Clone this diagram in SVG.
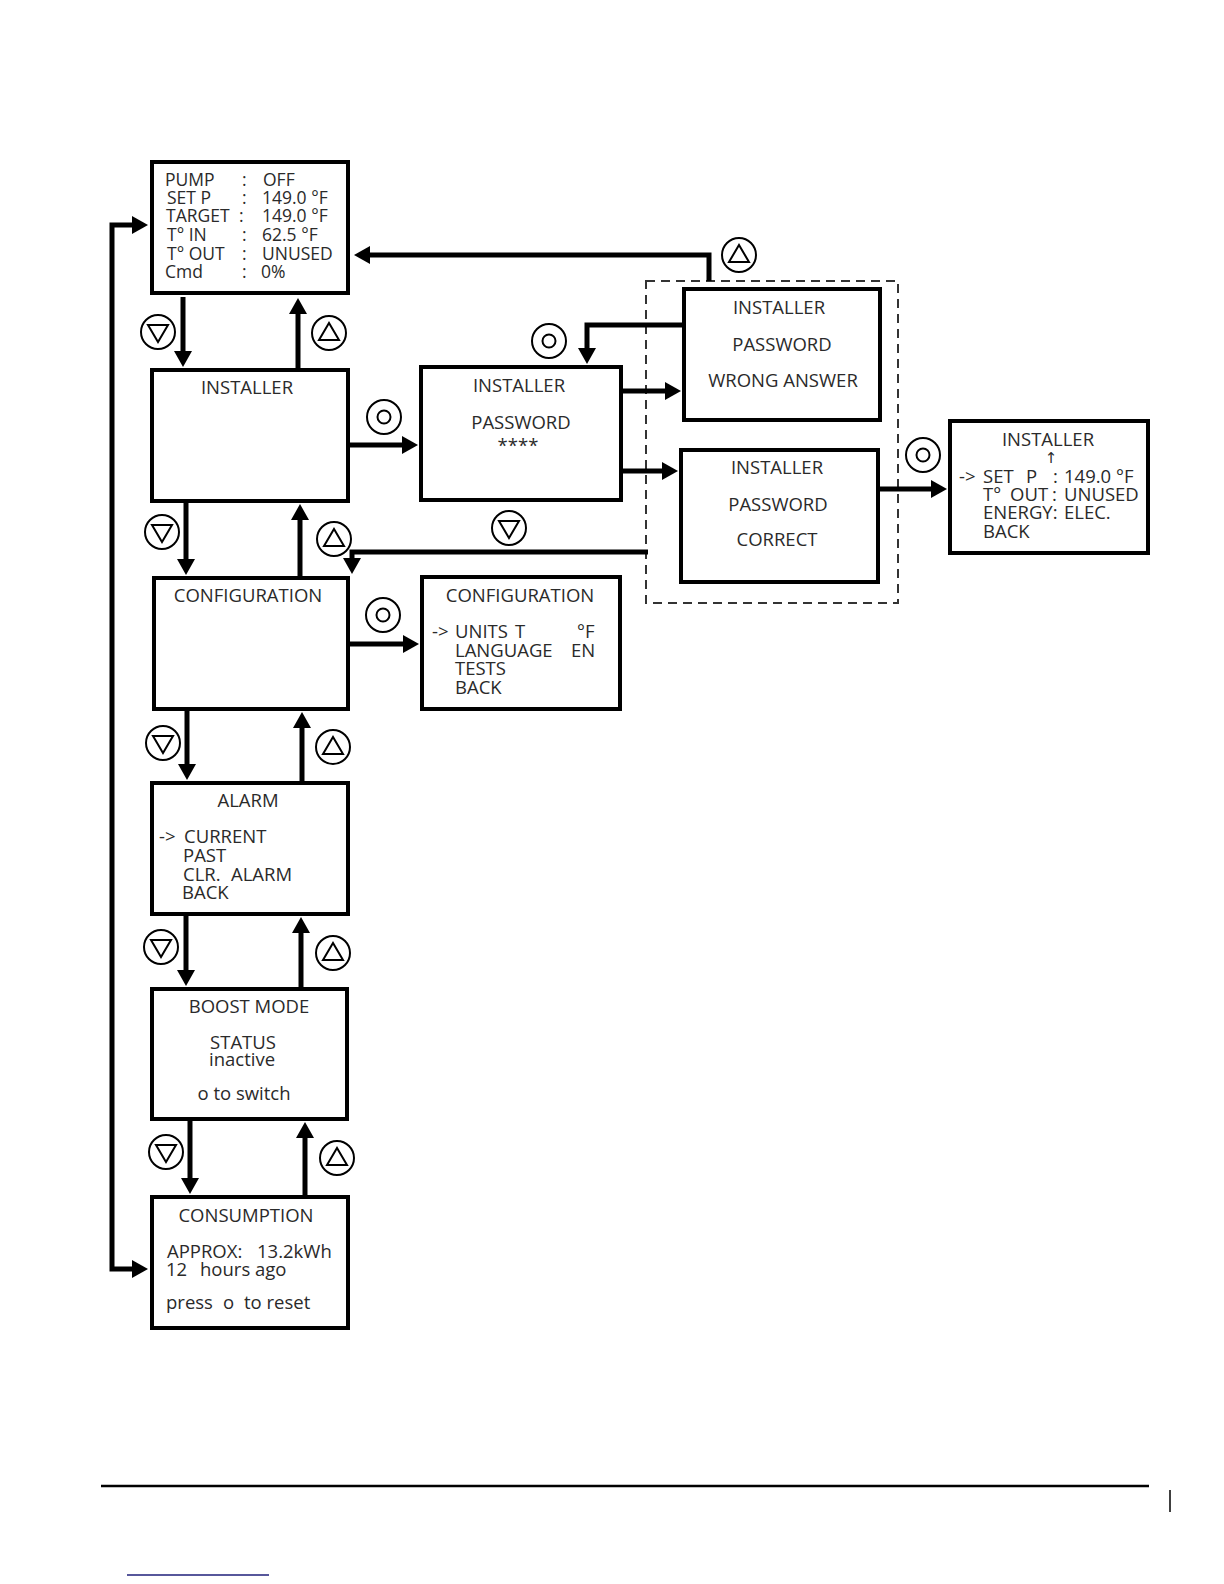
<svg xmlns="http://www.w3.org/2000/svg" width="1224" height="1584" viewBox="0 0 1224 1584" xml:space="preserve">
<style>
.box{fill:#fff;stroke:#000;stroke-width:4}
.dash{fill:none;stroke:#333;stroke-width:2;stroke-dasharray:9 6}
.con{fill:none;stroke:#000;stroke-width:5;stroke-linejoin:miter}
.sym{fill:none;stroke:#000;stroke-width:2}
text{font-family:"Open Sans","Noto Sans","DejaVu Sans",sans-serif;font-size:18.5px;fill:#2a2a2a}
.t{font-size:17.5px}
.m{text-anchor:middle}
.sm{font-size:15px}
</style>
<defs>
<marker id="ah" markerUnits="userSpaceOnUse" markerWidth="18" markerHeight="18" refX="1" refY="9" orient="auto-start-reverse">
<path d="M0,0 L16,9 L0,18 Z" fill="#000"/>
</marker>
<g id="dn"><circle class="sym" r="17"/><path class="sym" d="M-10,-7 L10,-7 L0,10 Z"/></g>
<g id="up"><circle class="sym" r="17"/><path class="sym" d="M-10,7 L10,7 L0,-10 Z"/></g>
<g id="ok"><circle class="sym" r="17"/><circle class="sym" r="6.5"/></g>
</defs>
<rect width="1224" height="1584" fill="#fff"/>

<rect id="group-password-result" class="dash" x="646" y="281" width="252" height="322"/>

<g id="connectors">
<path class="con" marker-start="url(#ah)" marker-end="url(#ah)" d="M133,225 H112 V1269 H133"/>
<path class="con" marker-end="url(#ah)" d="M183,297 V352"/>
<path class="con" marker-end="url(#ah)" d="M298,368 V313"/>
<path class="con" marker-end="url(#ah)" d="M186,503 V560"/>
<path class="con" marker-end="url(#ah)" d="M300,576 V519"/>
<path class="con" marker-end="url(#ah)" d="M187,711 V765"/>
<path class="con" marker-end="url(#ah)" d="M302,781 V727"/>
<path class="con" marker-end="url(#ah)" d="M186,916 V971"/>
<path class="con" marker-end="url(#ah)" d="M301,987 V932"/>
<path class="con" marker-end="url(#ah)" d="M190,1121 V1179"/>
<path class="con" marker-end="url(#ah)" d="M305,1195 V1137"/>
<path class="con" marker-end="url(#ah)" d="M350,445 H403"/>
<path class="con" marker-end="url(#ah)" d="M623,391 H666"/>
<path class="con" marker-end="url(#ah)" d="M623,471 H663"/>
<path class="con" marker-end="url(#ah)" d="M880,489 H932"/>
<path class="con" marker-end="url(#ah)" d="M350,644 H404"/>
<path class="con" marker-end="url(#ah)" d="M682,325 H587 V349"/>
<path class="con" marker-end="url(#ah)" d="M709,281 V255 H369"/>
<path class="con" marker-end="url(#ah)" d="M648,552 H352 V559"/>
</g>

<g id="symbols">
<use href="#dn" x="158" y="332"/>
<use href="#dn" x="162" y="532"/>
<use href="#dn" x="163" y="743"/>
<use href="#dn" x="161" y="947"/>
<use href="#dn" x="166" y="1152"/>
<use href="#dn" x="509" y="528"/>
<use href="#up" x="329" y="333"/>
<use href="#up" x="334" y="539"/>
<use href="#up" x="333" y="747"/>
<use href="#up" x="333" y="953"/>
<use href="#up" x="337" y="1158"/>
<use href="#up" x="739" y="255"/>
<use href="#ok" x="384" y="417"/>
<use href="#ok" x="549" y="341"/>
<use href="#ok" x="383" y="615"/>
<use href="#ok" x="923" y="455"/>
</g>

<g id="node-main">
<rect class="box" x="152" y="162" width="196" height="131"/>
<text class="t" x="165" y="186">PUMP</text><text class="t" x="242" y="186">:</text><text class="t" x="263" y="186">OFF</text>
<text class="t" x="167" y="204">SET P</text><text class="t" x="242" y="204">:</text><text class="t" x="262" y="204">149.0 °F</text>
<text class="t" x="166" y="222">TARGET</text><text class="t" x="239" y="222">:</text><text class="t" x="262" y="222">149.0 °F</text>
<text class="t" x="167" y="241">T° IN</text><text class="t" x="242" y="241">:</text><text class="t" x="262" y="241">62.5 °F</text>
<text class="t" x="167" y="260">T° OUT</text><text class="t" x="242" y="260">:</text><text class="t" x="262" y="260">UNUSED</text>
<text class="t" x="165" y="278">Cmd</text><text class="t" x="242" y="278">:</text><text class="t" x="261" y="278">0%</text>
</g>

<g id="node-installer">
<rect class="box" x="152" y="370" width="196" height="131"/>
<text class="m" x="247" y="394">INSTALLER</text>
</g>

<g id="node-password">
<rect class="box" x="421" y="367" width="200" height="133"/>
<text class="m" x="519" y="392">INSTALLER</text>
<text class="m" x="521" y="429">PASSWORD</text>
<text class="m" x="518" y="452">****</text>
</g>

<g id="node-wrong">
<rect class="box" x="684" y="289" width="196" height="131"/>
<text class="m" x="779" y="314">INSTALLER</text>
<text class="m" x="782" y="351">PASSWORD</text>
<text class="m" x="783" y="387">WRONG ANSWER</text>
</g>

<g id="node-correct">
<rect class="box" x="681" y="450" width="197" height="132"/>
<text class="m" x="777" y="474">INSTALLER</text>
<text class="m" x="778" y="511">PASSWORD</text>
<text class="m" x="777" y="546">CORRECT</text>
</g>

<g id="node-installer-menu">
<rect class="box" x="950" y="421" width="198" height="132"/>
<text class="m" x="1048" y="446">INSTALLER</text>
<text class="m sm" x="1051" y="463">↑</text>
<text x="959" y="483">-&gt;</text><text x="983" y="483">SET</text><text x="1026" y="483">P</text><text x="1053" y="483">:</text><text x="1064" y="483">149.0 °F</text>
<text x="983" y="501">T°</text><text x="1010" y="501">OUT</text><text x="1052" y="501">:</text><text x="1064" y="501">UNUSED</text>
<text x="983" y="519">ENERGY:</text><text x="1064" y="519">ELEC.</text>
<text x="983" y="538">BACK</text>
</g>

<g id="node-configuration">
<rect class="box" x="154" y="578" width="194" height="131"/>
<text class="m" x="248" y="602">CONFIGURATION</text>
</g>

<g id="node-configuration-menu">
<rect class="box" x="422" y="577" width="198" height="132"/>
<text class="m" x="520" y="602">CONFIGURATION</text>
<text x="432" y="638">-&gt;</text><text x="455" y="638">UNITS</text><text x="515" y="638">T</text><text x="577" y="638">°F</text>
<text x="455" y="657">LANGUAGE</text><text x="571" y="657">EN</text>
<text x="455" y="675">TESTS</text>
<text x="455" y="694">BACK</text>
</g>

<g id="node-alarm">
<rect class="box" x="152" y="783" width="196" height="131"/>
<text class="m" x="248" y="807">ALARM</text>
<text x="159" y="843">-&gt;</text><text x="184" y="843">CURRENT</text>
<text x="183" y="862">PAST</text>
<text x="183" y="881">CLR.</text><text x="231" y="881">ALARM</text>
<text x="182" y="899">BACK</text>
</g>

<g id="node-boost">
<rect class="box" x="152" y="989" width="195" height="130"/>
<text class="m" x="249" y="1013">BOOST MODE</text>
<text class="m" x="243" y="1049">STATUS</text>
<text class="m" x="242" y="1066">inactive</text>
<text class="m" x="244" y="1100">o to switch</text>
</g>

<g id="node-consumption">
<rect class="box" x="152" y="1197" width="196" height="131"/>
<text class="m" x="246" y="1222">CONSUMPTION</text>
<text x="167" y="1258">APPROX:</text><text x="257" y="1258">13.2kWh</text>
<text x="166" y="1276">12</text><text x="200" y="1276">hours ago</text>
<text x="166" y="1309">press</text><text x="223" y="1309">o</text><text x="244" y="1309">to reset</text>
</g>

<g id="footer">
<path d="M101,1486 H1149" stroke="#000" stroke-width="2.5" fill="none"/>
<path d="M1170,1490 V1512" stroke="#000" stroke-width="1.5" fill="none"/>
<path d="M127,1575 H269" stroke="#1f1f7a" stroke-width="1.5" fill="none"/>
</g>
</svg>
